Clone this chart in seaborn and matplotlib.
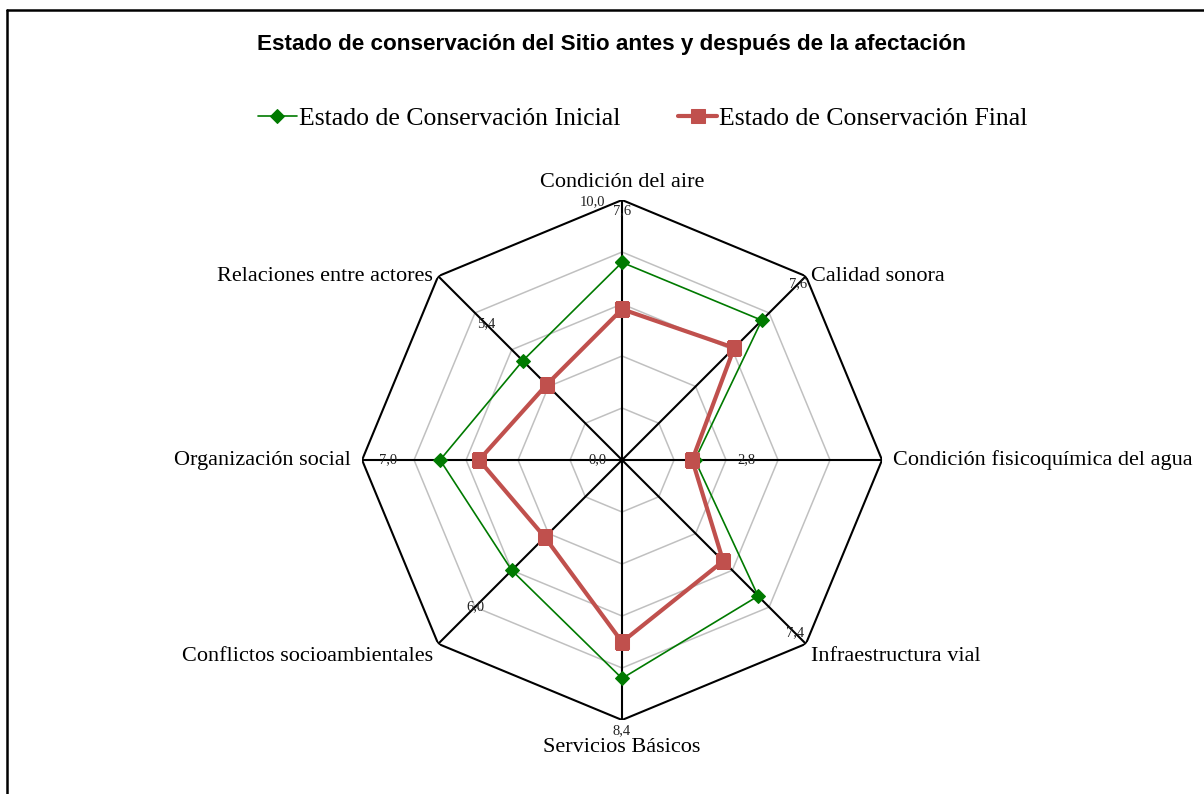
import numpy as np
import matplotlib
matplotlib.use('Agg')
import matplotlib.pyplot as plt
import seaborn as sns
from matplotlib.lines import Line2D

# Data
categories = ['Condición del aire', 'Calidad sonora', 'Condición fisicoquímica del agua',
              'Infraestructura vial', 'Servicios Básicos', 'Conflictos socioambientales',
              'Organización social', 'Relaciones entre actores']
inicial = [7.6, 7.6, 2.8, 7.4, 8.4, 6.0, 7.0, 5.4]
final = [5.8, 6.1, 2.7, 5.5, 7.0, 4.2, 5.5, 4.1]
rings = [2, 4, 6, 8]
r_max = 10

green = '#007A00'
red = '#C0504D'

sns.set_theme(style='white')
plt.rcParams['font.family'] = ['Liberation Serif', 'DejaVu Serif']
plt.rcParams['text.color'] = 'black'

n = len(categories)
theta = np.linspace(0, 2 * np.pi, n, endpoint=False)
theta_c = np.append(theta, theta[0] + 2 * np.pi)

fig = plt.figure(figsize=(12.04, 7.94), dpi=100)
ax = fig.add_axes([0.3007, 0.0932, 0.4319, 0.6549], projection='polar')
ax.set_theta_zero_location('N')
ax.set_theta_direction(-1)
ax.set_ylim(0, r_max)
ax.grid(False)
ax.spines['polar'].set_visible(False)
ax.set_xticks([])
ax.set_yticks([])
ax.patch.set_alpha(0)

# polygon grid
for r in rings:
    ax.plot(theta_c, [r] * (n + 1), color='#C0C0C0', lw=1.1, zorder=1)
ax.plot(theta_c, [r_max] * (n + 1), color='black', lw=1.5, zorder=2)
for t in theta:
    ax.plot([t, t], [0, r_max], color='black', lw=1.5, zorder=2)

# series
sns.lineplot(x=theta_c, y=inicial + inicial[:1], ax=ax, sort=False, estimator=None,
             color=green, lw=1.2, marker='D', markersize=7, markeredgecolor=green,
             label='Estado de Conservación Inicial', zorder=4)
sns.lineplot(x=theta_c, y=final + final[:1], ax=ax, sort=False, estimator=None,
             color=red, lw=3, marker='s', markersize=10, markeredgecolor=red,
             label='Estado de Conservación Final', zorder=5)
ax.set_xlabel('')
ax.set_ylabel('')
handles, labels = ax.get_legend_handles_labels()
ax.get_legend().remove()

# value labels (initial series)
for t, v in zip(theta, inicial):
    ax.text(t, v + 2.0, f'{v:.1f}'.replace('.', ','), ha='center', va='center',
            fontsize=10.5, color='#222222', zorder=6)
ax.annotate('10,0', xy=(0, r_max), xytext=(-12, -1), textcoords='offset points',
            ha='right', va='center', fontsize=10.5, color='#222222')
ax.annotate('0,0', xy=(0, 0), xytext=(-11, 0), textcoords='offset points',
            ha='right', va='center', fontsize=10.5, color='#222222')

# category labels
offsets = [((0, 6), 'center', 'bottom'), ((4, 0), 'left', 'center'),
           ((8, 0), 'left', 'center'), ((4, -2), 'left', 'top'),
           ((0, -13), 'center', 'top'), ((-4, -2), 'right', 'top'),
           ((-8, 0), 'right', 'center'), ((-4, 0), 'right', 'center')]
for t, cat, (off, ha, va) in zip(theta, categories, offsets):
    ax.annotate(cat, xy=(t, r_max), xytext=off, textcoords='offset points',
                ha=ha, va=va, fontsize=16, color='black')

fig.text(0.508, 0.944, 'Estado de conservación del Sitio antes y después de la afectación',
         ha='center', va='center', fontsize=16.2, fontweight='bold',
         family='Liberation Sans', color='black')
fig.legend(handles, labels, loc='center', bbox_to_anchor=(0.534, 0.851), ncol=2,
           frameon=False, fontsize=18.5, handlelength=1.5, columnspacing=2.25,
           handletextpad=0.1)

# outer frame
fig.add_artist(Line2D([0.0062, 0.0062], [0, 0.9868], transform=fig.transFigure,
                      color='black', lw=1.8))
fig.add_artist(Line2D([0.0062, 1.0], [0.9868, 0.9868], transform=fig.transFigure,
                      color='black', lw=1.8))

fig.savefig('out.png', dpi=100)
